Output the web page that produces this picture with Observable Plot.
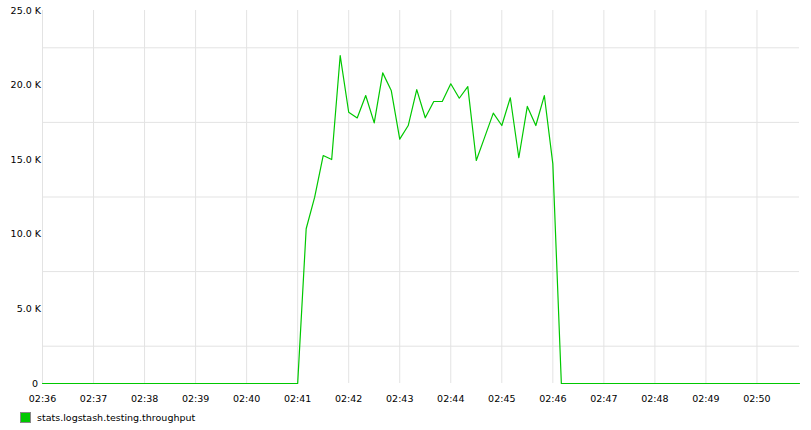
<!DOCTYPE html>
<html>
<head>
<meta charset="utf-8">
<script src="https://cdn.jsdelivr.net/npm/d3@7"></script>
<script src="https://cdn.jsdelivr.net/npm/@observablehq/plot@0.6"></script>
<style>
  body { margin: 0; background: #fff; font-family: "DejaVu Sans", sans-serif; }
  #chart svg { display: block; }
  #legend { display: flex; align-items: center; height: 25px; padding-left: 20px; font-size: 9.5px; color: #000; margin-top: 0; }
  #legend .sw { width: 9px; height: 9px; background: #00c800; border: 1px solid #888; margin-right: 6px; box-sizing: content-box; }
</style>
</head>
<body>
<div id="chart"></div>
<div id="legend"><span class="sw"></span><span id="legtext"></span></div>
<script>
const seriesName = "stats.logstash.testing.throughput";
const startTime = "2014-01-01T02:36:00Z";
const stepSeconds = 10;
// one value every 10 s, 02:36:00 … 02:50:50
const throughput = [
  0,0,0,0,0,0, 0,0,0,0,0,0, 0,0,0,0,0,0, 0,0,0,0,0,0, 0,0,0,0,0,0,   // 02:36 – 02:40:50
  0, 10370, 12490, 15280, 15010, 21980,                                // 02:41
  18180, 17800, 19300, 17470, 20820, 19640,                            // 02:42
  16380, 17290, 19700, 17810, 18900, 18900,                            // 02:43
  20090, 19120, 19900, 14950, 16530, 18120,                            // 02:44
  17290, 19150, 15130, 18570, 17290, 19300,                            // 02:45
  14720, 0, 0, 0, 0, 0,                                                // 02:46
  0,0,0,0,0,0, 0,0,0,0,0,0, 0,0,0,0,0,0, 0,0,0,0,0,0                   // 02:47 – 02:50:50
];
const xTickLabels = ["02:36","02:37","02:38","02:39","02:40","02:41","02:42","02:43","02:44","02:45","02:46","02:47","02:48","02:49","02:50"];
const yTicks = [0, 5000, 10000, 15000, 20000, 25000];
const yGrid = [2500, 7500, 12500, 17500, 22500];

const t0 = new Date(startTime);
const data = throughput.map((v, i) => ({ t: new Date(+t0 + i * stepSeconds * 1000), v }));
const tickDates = xTickLabels.map(s => new Date("2014-01-01T" + s + ":00Z"));
const fmtTime = d3.utcFormat("%H:%M");

const chart = Plot.plot({
  width: 811,
  height: 405,
  marginLeft: 42,
  marginRight: 12,
  marginTop: 10,
  marginBottom: 22,
  style: { fontFamily: "DejaVu Sans, sans-serif", fontSize: "9.5px", color: "#000", background: "#fff" },
  x: { type: "utc", domain: [data[0].t, data[data.length - 1].t] },
  y: { domain: [0, 25000] },
  marks: [
    Plot.ruleX(tickDates, { stroke: "#e3e3e3", strokeWidth: 1 }),
    Plot.ruleY(yGrid, { stroke: "#e3e3e3", strokeWidth: 1 }),
    Plot.axisX({ ticks: tickDates, tickFormat: fmtTime, tickSize: 0, tickPadding: 12, label: null }),
    Plot.axisY({ ticks: yTicks, tickFormat: d => d === 0 ? "0\u00a0" : (d / 1000).toFixed(1) + " K", tickSize: 0, tickPadding: 1.5, label: null }),
    Plot.line(data, { x: "t", y: "v", stroke: "#00c800", strokeWidth: 1.2 })
  ]
});
document.getElementById("chart").appendChild(chart);
document.getElementById("legtext").textContent = seriesName;
</script>
</body>
</html>
